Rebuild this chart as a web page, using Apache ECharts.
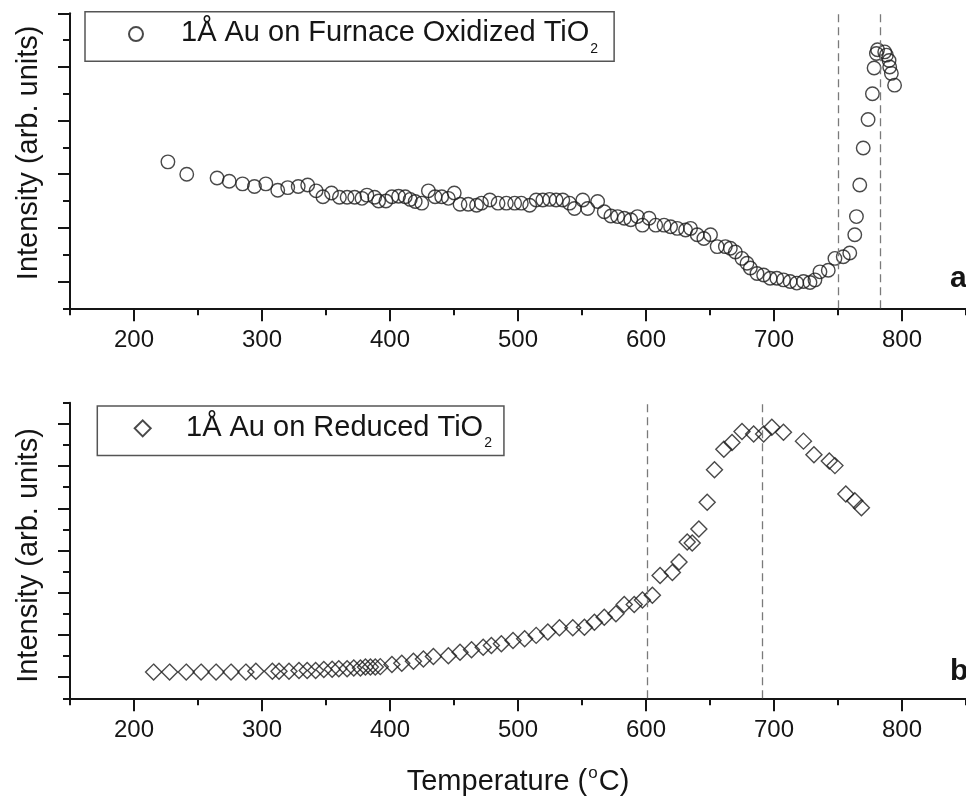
<!DOCTYPE html>
<html>
<head>
<meta charset="utf-8">
<script src="https://cdn.jsdelivr.net/npm/echarts@6/dist/echarts.min.js"></script>
<style>
  html, body { margin: 0; padding: 0; background: #ffffff; }
  #chart { width: 966px; height: 798px; }
</style>
</head>
<body>
<div id="chart"></div>
<script>
const FONT = '"Liberation Sans", Arial, Helvetica, sans-serif';

// Panel a: 1 Å Au on furnace-oxidized TiO2 (temperature in °C, intensity in arb. units)
const tempOxidized = [
  226.5, 241.2, 264.9, 274.4, 284.8, 294.1, 303.0, 312.3, 320.1, 328.3,
  335.7, 342.3, 347.6, 354.3, 360.5, 366.5, 372.4, 378.1, 382.0, 388.0,
  391.1, 396.8, 401.5, 406.7, 411.9, 415.8, 419.7, 424.8, 430.0, 435.2,
  440.4, 445.6, 450.2, 454.7, 461.1, 467.6, 471.5, 478.0, 484.4, 490.9,
  497.4, 502.6, 509.1, 514.2, 519.4, 524.7, 529.8, 535.0, 540.2, 544.1,
  550.6, 554.4, 562.2, 567.4, 572.6, 577.8, 583.0, 588.1, 593.3, 597.2,
  602.4, 607.6, 614.1, 619.2, 624.4, 630.9, 634.8, 640.0, 645.2, 650.4,
  655.6, 662.0, 665.9, 669.8, 675.0, 678.9, 681.5, 686.7, 691.9, 697.0,
  702.2, 707.4, 712.6, 717.8, 723.0, 728.1, 732.0, 735.9, 742.4, 747.6,
  754.1, 759.2, 763.1, 764.4, 767.0, 769.7, 773.5, 776.9, 778.2, 780.0,
  780.9, 786.5, 787.8, 789.9, 790.4, 791.7, 794.2
];
const intensityOxidized = [
  2.23, 2.00, 1.93, 1.87, 1.82, 1.77, 1.82, 1.70, 1.75, 1.77,
  1.80, 1.69, 1.58, 1.65, 1.57, 1.57, 1.57, 1.55, 1.61, 1.57,
  1.50, 1.50, 1.58, 1.59, 1.58, 1.53, 1.49, 1.46, 1.69, 1.58,
  1.58, 1.55, 1.65, 1.44, 1.44, 1.42, 1.46, 1.52, 1.46, 1.46,
  1.46, 1.46, 1.42, 1.52, 1.52, 1.53, 1.52, 1.52, 1.46, 1.36,
  1.52, 1.36, 1.49, 1.30, 1.22, 1.21, 1.18, 1.15, 1.21, 1.05,
  1.18, 1.05, 1.05, 1.02, 0.99, 0.96, 0.99, 0.87, 0.80, 0.87,
  0.65, 0.65, 0.62, 0.55, 0.43, 0.34, 0.25, 0.15, 0.12, 0.06,
  0.06, 0.03, 0.00, -0.03, 0.00, -0.02, 0.03, 0.18, 0.21, 0.43,
  0.46, 0.53, 0.87, 1.21, 1.80, 2.49, 3.02, 3.50, 3.98, 4.25,
  4.32, 4.28, 4.22, 4.12, 4.00, 3.88, 3.66
];

// Panel b: 1 Å Au on reduced TiO2
const tempReduced = [
  215.3, 227.8, 240.8, 252.4, 264.1, 275.8, 287.4, 295.2, 308.1, 313.3,
  321.1, 328.9, 335.3, 341.9, 348.3, 354.8, 360.0, 366.5, 371.7, 376.9,
  380.8, 384.7, 388.5, 392.4, 401.5, 409.2, 418.3, 426.1, 433.9, 445.6,
  454.7, 463.7, 472.8, 479.2, 487.0, 496.1, 505.2, 514.2, 523.3, 532.4,
  542.8, 551.9, 559.7, 567.4, 576.5, 583.0, 590.8, 597.2, 605.0, 611.0,
  620.6, 625.8, 632.2, 636.1, 641.3, 647.8, 653.5, 660.8, 667.2, 675.0,
  684.1, 691.9, 698.3, 707.4, 723.0, 731.2, 743.2, 747.6, 756.1, 763.1,
  768.3
];
const intensityReduced = [
  0.12, 0.12, 0.12, 0.12, 0.12, 0.12, 0.12, 0.14, 0.14, 0.14,
  0.14, 0.16, 0.16, 0.16, 0.18, 0.19, 0.20, 0.20, 0.22, 0.22,
  0.24, 0.24, 0.24, 0.25, 0.30, 0.33, 0.38, 0.43, 0.49, 0.51,
  0.59, 0.65, 0.71, 0.75, 0.79, 0.87, 0.91, 0.99, 1.07, 1.17,
  1.17, 1.18, 1.30, 1.42, 1.50, 1.72, 1.72, 1.83, 1.94, 2.41,
  2.48, 2.73, 3.20, 3.18, 3.51, 4.14, 4.91, 5.40, 5.56, 5.82,
  5.76, 5.76, 5.92, 5.80, 5.59, 5.27, 5.12, 5.01, 4.34, 4.18,
  4.01
];

// Dashed reference temperatures
const guidesOxidized = [750, 783];
const guidesReduced = [601, 691];

// Tick positions
const xMajorTicks = [200, 300, 400, 500, 600, 700, 800];
const xMinorTicks = [150, 250, 350, 450, 550, 650, 750, 850];
const yMajorTicksA = [0, 1, 2, 3, 4, 5];
const yMinorTicksA = [-0.5, 0.5, 1.5, 2.5, 3.5, 4.5];
const yMajorTicksB = [0, 1, 2, 3, 4, 5, 6];
const yMinorTicksB = [-0.5, 0.5, 1.5, 2.5, 3.5, 4.5, 5.5, 6.5];

const nameOxidized = '1Å Au on Furnace Oxidized TiO2';
const nameReduced = '1Å Au on Reduced TiO2';
const yTitle = 'Intensity (arb. units)';

const INK = '#151515';
const MARK = '#1c1c1c';

function zip(xs, ys) { return xs.map((x, i) => [x, ys[i]]); }

function xMain(gridIndex, withName) {
  const ax = {
    gridIndex, type: 'value', min: 150, max: 850, position: 'bottom',
    axisLine: { show: true, onZero: false, lineStyle: { color: INK, width: 2 } },
    axisTick: { show: true, inside: false, length: 13, customValues: xMajorTicks,
                lineStyle: { color: INK, width: 2 } },
    axisLabel: { show: true, customValues: xMajorTicks, margin: 20, fontSize: 24,
                 color: INK, fontFamily: FONT },
    splitLine: { show: false }
  };
  if (withName) {
    // "Temperature (°C)" with a raised small "o"
    ax.name = '{t|Temperature (}{sup|o}{t|C)}';
    ax.nameLocation = 'middle';
    ax.nameGap = 67;
    ax.nameTextStyle = {
      rich: {
        t: { fontSize: 29, fontFamily: FONT, color: INK, verticalAlign: 'top', padding: [2, 0, 0, 0] },
        sup: { fontSize: 17, fontFamily: FONT, color: INK, verticalAlign: 'top', padding: [0, 1, 0, 1] }
      }
    };
  }
  return ax;
}
function xMinor(gridIndex) {
  return {
    gridIndex, type: 'value', min: 150, max: 850, position: 'bottom', offset: 0,
    axisLine: { show: false, onZero: false },
    axisTick: { show: true, inside: false, length: 7, customValues: xMinorTicks,
                lineStyle: { color: INK, width: 2 } },
    axisLabel: { show: false },
    splitLine: { show: false }
  };
}
function yMain(gridIndex, max, ticks, namePad) {
  return {
    gridIndex, type: 'value', min: -0.5, max, position: 'left',
    axisLine: { show: true, onZero: false, lineStyle: { color: INK, width: 2 } },
    axisTick: { show: true, inside: false, length: 12, customValues: ticks,
                lineStyle: { color: INK, width: 2 } },
    axisLabel: { show: false },
    splitLine: { show: false },
    name: yTitle, nameLocation: 'middle', nameGap: 27,
    nameTextStyle: { fontSize: 29, fontFamily: FONT, color: INK, padding: namePad }
  };
}
function yMinor(gridIndex, max, ticks) {
  return {
    gridIndex, type: 'value', min: -0.5, max, position: 'left', offset: 0,
    axisLine: { show: false, onZero: false },
    axisTick: { show: true, inside: false, length: 7, customValues: ticks,
                lineStyle: { color: INK, width: 2 } },
    axisLabel: { show: false },
    splitLine: { show: false }
  };
}

function guideLines(values) {
  return {
    silent: true, symbol: 'none', label: { show: false },
    lineStyle: { type: [8, 5], color: '#7a7a7a', width: 1.3 },
    emphasis: { disabled: true },
    data: values.map(v => ({ xAxis: v }))
  };
}

// Legend text: trailing "2" becomes a subscript; textGap spaces the text from the icon
function legendRich(textGap) {
  return {
    t: { fontSize: 29, fontFamily: FONT, color: INK, verticalAlign: 'top', padding: [6.5, 0, 0, textGap] },
    sub: { fontSize: 14, fontFamily: FONT, color: INK, verticalAlign: 'top', padding: [29.7, 0, 0, 1] }
  };
}
function legendFormatter(name) {
  return '{t|' + name.slice(0, -1) + '}{sub|' + name.slice(-1) + '}';
}

const chart = echarts.init(document.getElementById('chart'), null, { renderer: 'canvas' });

chart.setOption({
  animation: false,
  backgroundColor: '#ffffff',
  grid: [
    { left: 70, top: 13.3, right: -4, height: 295 },
    { left: 70, top: 402.7, right: -4, height: 295.6 }
  ],
  xAxis: [xMain(0, false), xMinor(0), xMain(1, true), xMinor(1)],
  yAxis: [
    yMain(0, 5, yMajorTicksA, [0, 0, 0, 16]),
    yMinor(0, 5, yMinorTicksA),
    yMain(1, 6.5, yMajorTicksB, [0, 10, 0, 0]),
    yMinor(1, 6.5, yMinorTicksB)
  ],
  legend: [
    {
      data: [{ name: nameOxidized, icon: 'circle' }],
      left: 85, top: 11.7, itemWidth: 14, itemHeight: 14,
      padding: [7, 16, 5.3, 43], borderColor: '#555', borderWidth: 1.5,
      selectedMode: false, formatter: legendFormatter,
      textStyle: { rich: legendRich(33) }
    },
    {
      data: [{ name: nameReduced, icon: 'diamond' }],
      left: 97.3, top: 406, itemWidth: 16, itemHeight: 16,
      padding: [7, 12, 5.3, 36.4], borderColor: '#555', borderWidth: 1.5,
      selectedMode: false, formatter: legendFormatter,
      textStyle: { rich: legendRich(30.3) }
    }
  ],
  series: [
    {
      type: 'scatter', name: nameOxidized, xAxisIndex: 0, yAxisIndex: 0,
      data: zip(tempOxidized, intensityOxidized),
      symbol: 'circle', symbolSize: 13.5,
      itemStyle: { color: 'rgba(255,255,255,0)', borderColor: MARK, borderWidth: 1.4 },
      emphasis: { disabled: true },
      markLine: guideLines(guidesOxidized)
    },
    {
      type: 'scatter', name: nameReduced, xAxisIndex: 2, yAxisIndex: 2,
      data: zip(tempReduced, intensityReduced),
      symbol: 'diamond', symbolSize: 16,
      itemStyle: { color: 'rgba(255,255,255,0)', borderColor: MARK, borderWidth: 1.4 },
      emphasis: { disabled: true },
      markLine: guideLines(guidesReduced)
    }
  ],
  graphic: [
    { type: 'text', left: 950, top: 264, silent: true,
      style: { text: 'a', font: 'bold 30px ' + FONT, fill: INK } },
    { type: 'text', left: 950, top: 657, silent: true,
      style: { text: 'b', font: 'bold 30px ' + FONT, fill: INK } }
  ]
});
</script>
</body>
</html>
